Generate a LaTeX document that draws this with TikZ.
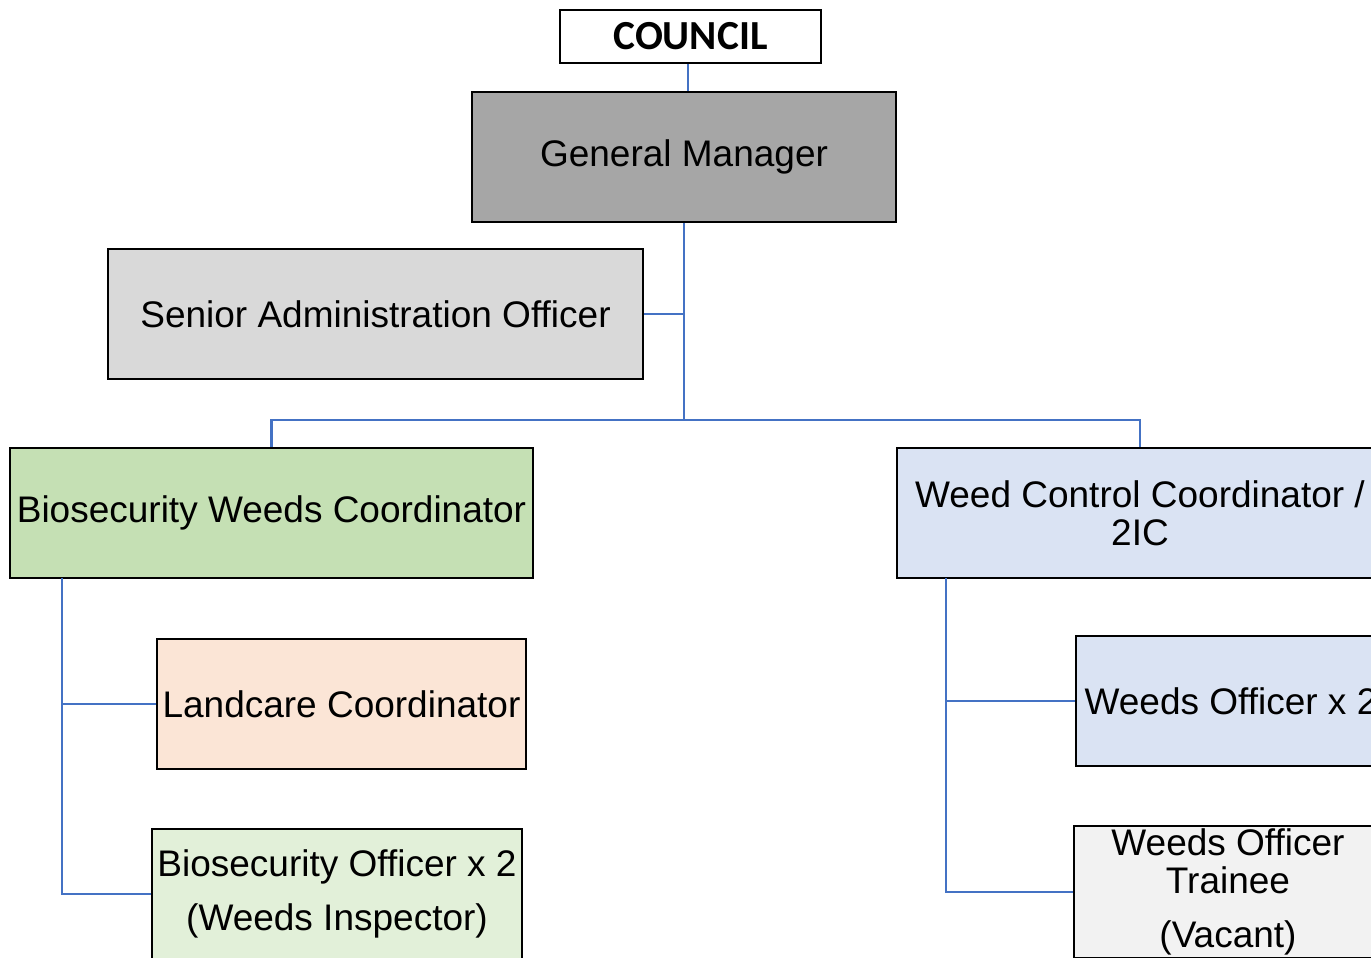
\documentclass[tikz,border=0pt]{standalone}
\usepackage{fontspec}
\setmainfont{Liberation Sans}
\newfontfamily\calfont{Carlito}

\definecolor{linkblue}{HTML}{4472C4}
\definecolor{gmgray}{HTML}{A6A6A6}
\definecolor{saogray}{HTML}{D9D9D9}
\definecolor{bwcgreen}{HTML}{C5E0B4}
\definecolor{wccblue}{HTML}{DAE3F3}
\definecolor{lcpeach}{HTML}{FBE5D6}
\definecolor{bolgreen}{HTML}{E2F0D9}
\definecolor{trgray}{HTML}{F2F2F2}

\tikzstyle{box}=[draw=black,line width=1.7pt,rectangle,inner sep=2pt,align=center,minimum height=97.5pt,font=\fontsize{27.75pt}{28.5pt}\selectfont]
\tikzstyle{link}=[draw=linkblue,line width=1.8pt]

\begin{document}
\begin{tikzpicture}[x=0.75pt,y=-0.75pt]
	\useasboundingbox (0,0) rectangle (1371,957);
	\clip (0,0) rectangle (1371,957);
	
	\node[box,minimum width=195.75pt,minimum height=39.75pt,font=\calfont\bfseries\fontsize{31pt}{34pt}\selectfont] (council) at (690.5,36.5) {COUNCIL};
	\node[box,fill=gmgray,minimum width=318pt] (gm) at (684,157) {General Manager};
	\node[box,fill=saogray,minimum width=401.25pt] (sao) at (375.5,314) {Senior Administration Officer};
	
	\node[box,fill=bwcgreen,minimum width=392.25pt] (bwc) at (271.5,513) {Biosecurity Weeds Coordinator};
	\node[box,fill=wccblue,minimum width=364.5pt] (wcc) at (1140,513) {Weed Control Coordinator /\\2IC};
	
	\node[box,fill=lcpeach,minimum width=276.75pt] (land) at (341.5,704) {Landcare Coordinator};
	\node[box,fill=bolgreen,minimum width=277.5pt] (bio) at (337,894) {Biosecurity Officer x 2\\[12pt](Weeds Inspector)};
	
	\node[box,fill=wccblue,minimum width=232.5pt] (wo) at (1231,701) {Weeds Officer x 2};
	\node[box,fill=trgray,minimum width=231pt] (trainee) at (1228,892) {Weeds Officer\\Trainee\\[12pt](Vacant)};
	
	\coordinate (bus) at (684,420);
	\coordinate (lsp) at (62,578);
	\coordinate (rsp) at (946,578);
	
	\draw[link] ([xshift=-2pt]council.south) -- ([xshift=-2pt]council.south |- gm.north);
	\draw[link] (gm.south) -- (bus);
	\draw[link] (sao.east) -- (sao.east -| bus);
	\draw[link] (bwc.north) |- (bus) -| (wcc.north);
	
	\draw[link] (lsp) |- (land.west);
	\draw[link] (lsp) |- (bio.west);
	\draw[link] (rsp) |- (wo.west);
	\draw[link] (rsp) |- (trainee.west);
\end{tikzpicture}
\end{document}
